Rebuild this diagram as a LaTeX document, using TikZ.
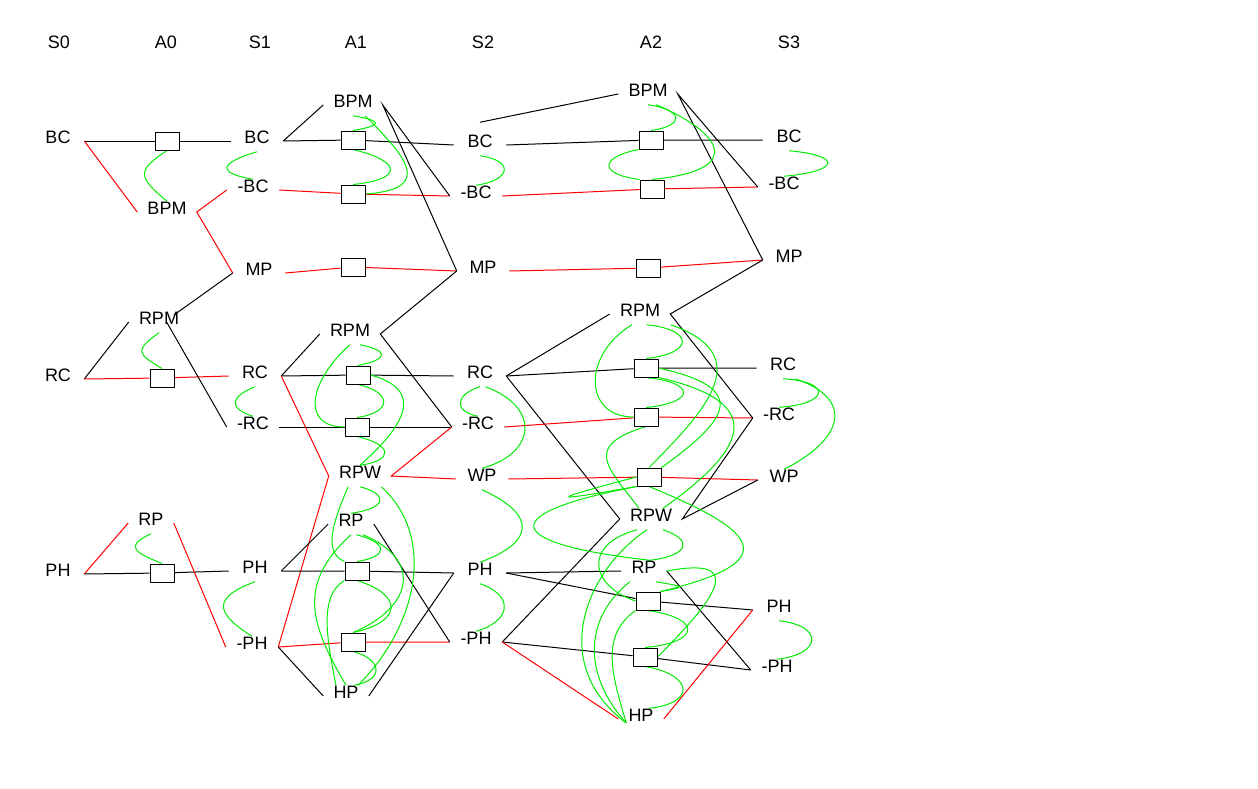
\documentclass[tikz,border=0pt]{standalone}
\usepackage{fontspec}
\setmainfont{Liberation Sans}
\usetikzlibrary{backgrounds}
\definecolor{mutexcol}{RGB}{0,235,0}
\definecolor{delcol}  {RGB}{255,0,0}
\newcommand\lblfont{\fontsize{13.5}{16}\selectfont}

\begin{document}
\begin{tikzpicture}[
  % one unit = one pixel of the 1258x789 sheet, y pointing down
  x=0.75pt,y=-0.75pt,
  line cap=round,line join=round,
  header/.style={font=\lblfont},
  fact/.style={font=\lblfont,text height=9.7pt,text depth=6pt,minimum width=39pt,inner sep=0pt},
  act/.style={font=\lblfont,text height=9.7pt,text depth=6pt,inner xsep=7.5pt,inner ysep=0pt},
  noop/.style={draw,fill=white,minimum width=18pt,minimum height=13.5pt,inner sep=0pt,line width=0.75pt},
  link/.style={line width=0.75pt},
  dlink/.style={link,delcol},
  mutex/.style={line width=0.75pt,mutexcol}
]
\useasboundingbox (0,0) rectangle (1258,789);

% ---- level headers -------------------------------------------------------
\foreach \name/\xx in {S0/59,A0/166,S1/260,A1/356,S2/483,A2/651,S3/789}
  \node[header] (hd\name) at (\xx,42) {\name};

% ---- state level 0 -------------------------------------------------------
\node[fact] (s0bc) at (58,141) {BC};
\node[fact] (s0rc) at (58,379) {RC};
\node[fact] (s0ph) at (58,574) {PH};

% ---- action level 0 ------------------------------------------------------
\node[act] (a0bpm) at (167,212) {BPM};
\node[act] (a0rpm) at (159,322) {RPM};
\node[act] (a0rp)  at (151,523) {RP};
\node[noop] (a0n1) at (167,141) {};
\node[noop] (a0n2) at (162,378) {};
\node[noop] (a0n3) at (162,573) {};

% ---- state level 1 -------------------------------------------------------
\node[fact] (s1bc)  at (257,141) {BC};
\node[fact] (s1nbc) at (253,190) {-BC};
\node[fact] (s1mp)  at (259,273) {MP};
\node[fact] (s1rc)  at (255,376) {RC};
\node[fact] (s1nrc) at (253,427) {-RC};
\node[fact] (s1ph)  at (255,571) {PH};
\node[fact] (s1nph) at (252,647) {-PH};

% ---- action level 1 ------------------------------------------------------
\node[act] (a1bpm) at (353,105) {BPM};
\node[act] (a1rpm) at (350,334) {RPM};
\node[act] (a1rpw) at (360,476) {RPW};
\node[act] (a1rp)  at (351,524) {RP};
\node[act] (a1hp)  at (346,696) {HP};
\node[noop] (a1n1) at (353,140) {};
\node[noop] (a1n2) at (353,194) {};
\node[noop] (a1n3) at (353,267) {};
\node[noop] (a1n4) at (358,375) {};
\node[noop] (a1n5) at (357,427) {};
\node[noop] (a1n6) at (357,571) {};
\node[noop] (a1n7) at (353,642) {};

% ---- state level 2 -------------------------------------------------------
\node[fact] (s2bc)  at (480,145) {BC};
\node[fact] (s2nbc) at (476,196) {-BC};
\node[fact] (s2mp)  at (483,271) {MP};
\node[fact] (s2rc)  at (480,376) {RC};
\node[fact] (s2nrc) at (478,427) {-RC};
\node[fact] (s2wp)  at (482,479) {WP};
\node[fact] (s2ph)  at (480,573) {PH};
\node[fact] (s2nph) at (476,642) {-PH};

% ---- action level 2 ------------------------------------------------------
\node[act] (a2bpm) at (648,94)  {BPM};
\node[act] (a2rpm) at (640,314) {RPM};
\node[act] (a2rpw) at (651,519) {RPW};
\node[act] (a2rp)  at (644,571) {RP};
\node[act] (a2hp)  at (641,719) {HP};
\node[noop] (a2n1) at (651,140) {};
\node[noop] (a2n2) at (652,189) {};
\node[noop] (a2n3) at (648,268) {};
\node[noop] (a2n4) at (646,368) {};
\node[noop] (a2n5) at (646,417) {};
\node[noop] (a2n6) at (649,477) {};
\node[noop] (a2n7) at (648,601) {};
\node[noop] (a2n8) at (645,657) {};

% ---- state level 3 -------------------------------------------------------
\node[fact] (s3bc)  at (789,140) {BC};
\node[fact] (s3nbc) at (784,187) {-BC};
\node[fact] (s3mp)  at (789,260) {MP};
\node[fact] (s3rc)  at (783,368) {RC};
\node[fact] (s3nrc) at (779,418) {-RC};
\node[fact] (s3wp)  at (784,480) {WP};
\node[fact] (s3ph)  at (779,610) {PH};
\node[fact] (s3nph) at (777,670) {-PH};

\begin{scope}[on background layer]
% ---- edges S0 -> A0 -> S1 ------------------------------------------------
\draw[link]  (s0bc.east) -- (a0n1) -- (s1bc.west);
\draw[dlink] (s0bc.east) -- (a0bpm.west);
\draw[dlink] (s1nbc.west) -- (a0bpm.east) -- (s1mp.west);
\draw[link]  (s0rc.east) -- (a0rpm.west);
\draw[dlink] (s0rc.east) -- (a0n2) -- (s1rc.west);
\draw[link]  (s1mp.west) -- ([xshift=-11.6pt,yshift=5.2pt]a0rpm.east);
\draw[link]  ([xshift=-17pt]a0rpm.east) -- (s1nrc.west);
\draw[dlink] (s0ph.east) -- (a0rp.west);
\draw[link]  (s0ph.east) -- (a0n3) -- (s1ph.west);
\draw[dlink] (a0rp.east) -- (s1nph.west);

% ---- edges S1 -> A1 -> S2 ------------------------------------------------
\draw[link]  (s1bc.east) -- (a1bpm.west);
\draw[link]  (s1bc.east) -- (a1n1) -- (s2bc.west);
\draw[dlink] (s1nbc.east) -- (a1n2) -- (s2nbc.west);
\draw[link]  (s2nbc.west) -- (a1bpm.east) -- (s2mp.west);
\draw[dlink] (s1mp.east) -- (a1n3) -- (s2mp.west);
\draw[link]  (s1rc.east) -- (a1rpm.west);
\draw[link]  (s1rc.east) -- (a1n4) -- (s2rc.west);
\draw[link]  (s1nrc.east) -- (a1n5) -- (s2nrc.west);
\draw[link]  (s2mp.west) -- (a1rpm.east) -- (s2nrc.west);
\draw[dlink] (s1rc.east) -- (a1rpw.west) -- (s1nph.east);
\draw[dlink] (s2nrc.west) -- (a1rpw.east) -- (s2wp.west);
\draw[link]  (s1ph.east) -- (a1rp.west);
\draw[link]  (s1ph.east) -- (a1n6) -- (s2ph.west);
\draw[dlink] (s1nph.east) -- (a1n7) -- (s2nph.west);
\draw[link]  (s1nph.east) -- (a1hp.west);
\draw[link]  (a1rp.east) -- (s2nph.west);
\draw[link]  (a1hp.east) -- (s2ph.west);

% ---- edges S2 -> A2 -> S3 ------------------------------------------------
\draw[link]  ([yshift=9pt]s2bc.north) -- (a2bpm.west);
\draw[link]  (s2bc.east) -- (a2n1) -- (s3bc.west);
\draw[dlink] (s2nbc.east) -- (a2n2) -- (s3nbc.west);
\draw[link]  (s3nbc.west) -- (a2bpm.east) -- (s3mp.west);
\draw[dlink] (s2mp.east) -- (a2n3) -- (s3mp.west);
\draw[link]  (s2rc.east) -- (a2rpm.west);
\draw[link]  (s2rc.east) -- (a2n4) -- (s3rc.west);
\draw[link]  (s2rc.east) -- (a2rpw.west) -- (s2nph.east);
\draw[dlink] (s2nrc.east) -- (a2n5) -- (s3nrc.west);
\draw[link]  (s3mp.west) -- (a2rpm.east) -- (s3nrc.west);
\draw[dlink] (s2wp.east) -- (a2n6) -- (s3wp.west);
\draw[link]  (s3nrc.west) -- (a2rpw.east) -- (s3wp.west);
\draw[link]  (s2ph.east) -- (a2rp.west);
\draw[link]  (s2ph.east) -- (a2n7) -- (s3ph.west);
\draw[link]  (s2nph.east) -- (a2n8) -- (s3nph.west);
\draw[dlink] (s2nph.east) -- (a2hp.west);
\draw[link]  (a2rp.east) -- (s3nph.west);
\draw[dlink] (a2hp.east) -- (s3ph.west);

% ---- mutex arcs, level 0 and 1 -------------------------------------------
\draw[mutex] (a0n1.south) .. controls +(-30,20) and +(-30,-25) .. (a0bpm.north);
\draw[mutex] (a0rpm.south) .. controls +(-25,18) and +(-25,-15) .. (a0n2.north);
\draw[mutex] (a0rp.south) .. controls +(-25,12) and +(-30,-12) .. (a0n3.north);
\draw[mutex] (s1bc.south) .. controls +(-40,12) and +(-35,-6) .. (s1nbc.north);
\draw[mutex] (s1rc.south) .. controls +(-25,10) and +(-25,-8) .. (s1nrc.north);
\draw[mutex] (s1ph.south) .. controls +(-40,15) and +(-40,-25) .. (s1nph.north);

% ---- mutex arcs, action level 1 ------------------------------------------
\draw[mutex] (a1bpm.south) .. controls +(30,5) and +(30,-5) .. (a1n1.north);
\draw[mutex] (a1n1.south) .. controls +(50,12) and +(50,-5) .. (a1n2.north);
\draw[mutex] ([xshift=9pt]a1bpm.south) .. controls +(40,40) and +(70,-5) .. (a1n2.east);
\draw[mutex] (a1rpm.south) .. controls +(-40,35) and +(-45,0) .. (a1n5.west);
\draw[mutex] ([xshift=7.5pt]a1rpm.south) .. controls +(30,6) and +(30,-6) .. (a1n4.north);
\draw[mutex] (a1n4.south) .. controls +(35,8) and +(35,-5) .. (a1n5.north);
\draw[mutex] (a1n4.east) .. controls +(55,15) and +(45,-40) .. (a1rpw.north);
\draw[mutex] (a1n5.south) .. controls +(35,8) and +(35,-5) .. (a1rpw.north);
\draw[mutex] (a1rpw.south) .. controls +(30,8) and +(35,-5) .. (a1rp.north);
\draw[mutex] ([xshift=-9pt]a1rpw.south) .. controls +(-10,25) and +(-25,-10) .. (a1n6.north west);
\draw[mutex] ([xshift=16pt]a1rpw.south) .. controls +(55,50) and +(60,-60) .. ([xshift=9pt]a1hp.north);
\draw[mutex] (a1rp.south) .. controls +(-55,50) and +(-35,-60) .. (a1hp.north);
\draw[mutex] (a1n6.south west) .. controls +(-25,15) and +(-10,-50) .. ([xshift=-7.5pt]a1hp.north);
\draw[mutex] ([xshift=4pt]a1rp.south) .. controls +(32,8) and +(32,-5) .. (a1n6.north);
\draw[mutex] ([xshift=9pt]a1rp.south) .. controls +(60,25) and +(60,-25) .. (a1n7.north);
\draw[mutex] (a1n6.south) .. controls +(48,15) and +(48,-10) .. (a1n7.north);
\draw[mutex] (a1n7.south) .. controls +(30,8) and +(30,-5) .. ([xshift=6pt]a1hp.north);

% ---- mutex arcs, state level 2 -------------------------------------------
\draw[mutex] (s2bc.south) .. controls +(35,5) and +(35,-5) .. (s2nbc.north);
\draw[mutex] (s2rc.south) .. controls +(-25,8) and +(-25,-5) .. (s2nrc.north);
\draw[mutex] ([xshift=4pt]s2rc.south) .. controls +(55,20) and +(55,-15) .. (s2wp.north);
\draw[mutex] (s2wp.south) .. controls +(55,25) and +(55,-20) .. (s2ph.north);
\draw[mutex] (s2ph.south) .. controls +(35,12) and +(35,-10) .. (s2nph.north);

% ---- mutex arcs, action level 2 ------------------------------------------
\draw[mutex] (a2bpm.south) .. controls +(35,5) and +(35,-5) .. (a2n1.north);
\draw[mutex] ([xshift=6pt]a2bpm.south) .. controls +(60,25) and +(100,-10) .. (a2n2.north);
\draw[mutex] (a2n1.south west) .. controls +(-40,8) and +(-40,-5) .. (a2n2.north west);
\draw[mutex] ([xshift=-6pt]a2rpm.south) .. controls +(-50,30) and +(-50,0) .. (a2n5.west);
\draw[mutex] ([xshift=5pt]a2rpm.south) .. controls +(48,5) and +(48,-5) .. (a2n4.north);
\draw[mutex] ([xshift=23pt]a2rpm.south) .. controls +(85,30) and +(60,-60) .. (a2n6.north);
\draw[mutex] (a2n4.south) .. controls +(50,5) and +(50,-5) .. (a2n5.north);
\draw[mutex] (a2n4.east) .. controls +(90,20) and +(70,-50) .. (a2n6.north east);
\draw[mutex] (a2n4.south east) .. controls +(110,25) and +(85,-60) .. ([xshift=9pt]a2rpw.north);
\draw[mutex] (a2n5.south) .. controls +(-65,20) and +(-30,-40) .. ([xshift=-9pt]a2rpw.north);
\draw[mutex] (a2n6.west) .. controls +(-95,25) and +(-85,15) .. (a2n6.south west);
\draw[mutex] (a2n6.south west) .. controls +(-155,30) and +(-135,-15) .. ([xshift=4.5pt]a2rp.north);
\draw[mutex] (a2n6.south) .. controls +(110,45) and +(125,-30) .. (a2n7.north east);
\draw[mutex] ([xshift=9pt]a2rpw.south) .. controls +(30,10) and +(40,-5) .. ([xshift=4.5pt]a2rp.north);
\draw[mutex] ([xshift=-10.5pt]a2rpw.south) .. controls +(-55,15) and +(-45,-15) .. (a2n7.west);
\draw[mutex] ([xshift=-3pt]a2rpw.south) .. controls +(-60,40) and +(-80,-60) .. ([xshift=-11pt,yshift=5pt]a2hp.south);
\draw[mutex] ([xshift=-10.5pt]a2rp.south) .. controls +(-45,35) and +(-45,-50) .. ([xshift=-11pt,yshift=5pt]a2hp.south);
\draw[mutex] (a2n7.south west) .. controls +(-35,25) and +(-15,-50) .. ([xshift=-11pt,yshift=5pt]a2hp.south);
\draw[mutex] ([xshift=9pt]a2rp.south) .. controls +(28,5) and +(28,-5) .. (a2n7.north east);
\draw[mutex] (a2rp.east) .. controls +(80,-15) and +(60,-60) .. (a2n8.east);
\draw[mutex] (a2n7.south) .. controls +(55,8) and +(55,-5) .. (a2n8.north);
\draw[mutex] (a2n8.south) .. controls +(48,8) and +(48,-5) .. ([xshift=6pt]a2hp.north);

% ---- mutex arcs, state level 3 -------------------------------------------
\draw[mutex] (s3bc.south) .. controls +(55,5) and +(55,-5) .. (s3nbc.north);
\draw[mutex] (s3rc.south) .. controls +(50,3) and +(50,-3) .. (s3nrc.north);
\draw[mutex] ([xshift=9pt]s3rc.south) .. controls +(60,20) and +(60,-30) .. (s3wp.north);
\draw[mutex] (s3ph.south) .. controls +(45,5) and +(45,-5) .. (s3nph.north);
\end{scope}

\end{tikzpicture}
\end{document}
